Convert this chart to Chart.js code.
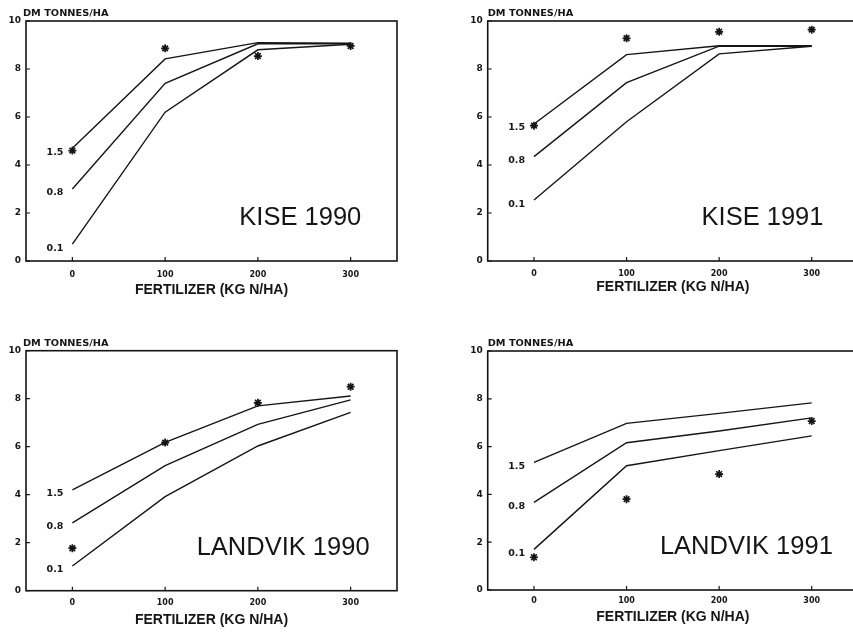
<!DOCTYPE html>
<html>
<head>
<meta charset="utf-8">
<script src="https://cdn.jsdelivr.net/npm/chart.js@4.4.1/dist/chart.umd.min.js"></script>
<style>
    body { margin: 0; background: #fff; width: 853px; height: 633px; overflow: hidden; position: relative; }
    canvas { position: absolute; }
</style>
</head>
<body>
<canvas id="c1" width="430" height="310" style="left:0;top:0"></canvas>
<canvas id="c2" width="440" height="310" style="left:430px;top:0"></canvas>
<canvas id="c3" width="430" height="313" style="left:0;top:320px"></canvas>
<canvas id="c4" width="440" height="313" style="left:430px;top:320px"></canvas>
<script>
const fertilizer = [0, 100, 200, 300];
const rateLabels = ["1.5", "0.8", "0.1"];
const panelNames = ["KISE 1990", "KISE 1991", "LANDVIK 1990", "LANDVIK 1991"];
const yTicks = [0, 2, 4, 6, 8, 10];

// simulated curves (one per rate) and observed values, DM tonnes/ha
const kise1990_15 = [4.7, 8.42, 9.1, 9.07];
const kise1990_08 = [3.0, 7.4, 9.05, 9.05];
const kise1990_01 = [0.7, 6.2, 8.8, 9.03];
const kise1990_obs = [4.6, 8.86, 8.54, 8.96];

const kise1991_15 = [5.71, 8.6, 8.97, 8.97];
const kise1991_08 = [4.35, 7.43, 8.95, 8.95];
const kise1991_01 = [2.54, 5.8, 8.63, 8.95];
const kise1991_obs = [5.64, 9.28, 9.55, 9.64];

const landvik1990_15 = [4.2, 6.18, 7.7, 8.11];
const landvik1990_08 = [2.83, 5.21, 6.93, 7.95];
const landvik1990_01 = [1.03, 3.92, 6.03, 7.43];
const landvik1990_obs = [1.77, 6.17, 7.83, 8.5];

const landvik1991_15 = [5.34, 6.97, 7.39, 7.83];
const landvik1991_08 = [3.67, 6.16, 6.65, 7.2];
const landvik1991_01 = [1.7, 5.2, 5.83, 6.45];
const landvik1991_obs = [1.37, 3.8, 4.85, 7.07];

const INK = "#151515";

const panels = [
    { id: "c1", name: panelNames[0], lines: [kise1990_15, kise1990_08, kise1990_01], obs: kise1990_obs,
      left: 26, top: 21, right: 33, xAxis: 49, tickPad: 8.7, titleGap: 29.5, unitDx: -3, nameAt: [180, 1.5] },
    { id: "c2", name: panelNames[1], lines: [kise1991_15, kise1991_08, kise1991_01], obs: kise1991_obs,
      left: 57.7, top: 21, right: 12, xAxis: 49, tickPad: 8.2, titleGap: 26.3, unitDx: 0, nameAt: [181, 1.5] },
    { id: "c3", name: panelNames[2], lines: [landvik1990_15, landvik1990_08, landvik1990_01], obs: landvik1990_obs,
      left: 26, top: 30.7, right: 33, xAxis: 42.3, tickPad: 7.7, titleGap: 29.3, unitDx: -3, nameAt: [134, 1.5] },
    { id: "c4", name: panelNames[3], lines: [landvik1991_15, landvik1991_08, landvik1991_01], obs: landvik1991_obs,
      left: 57.7, top: 31, right: 12, xAxis: 43, tickPad: 6.5, titleGap: 26.7, unitDx: 0, nameAt: [136, 1.5] },
];

function toPoints(values) {
    return fertilizer.map((x, i) => ({ x: x, y: values[i] }));
}

// frame with inward ticks, unit text, rate labels and site name
const annotate = {
    id: "annotate",
    afterDatasetsDraw(chart, args, opts) {
        const { ctx, chartArea: a, scales } = chart;
        ctx.save();
        ctx.strokeStyle = INK;
        ctx.lineWidth = 1.6;
        ctx.strokeRect(a.left, a.top, a.right - a.left, a.bottom - a.top);

        ctx.lineWidth = 1.2;
        ctx.beginPath();
        scales.x.ticks.forEach((t) => {
            const px = scales.x.getPixelForValue(t.value);
            ctx.moveTo(px, a.bottom);
            ctx.lineTo(px, a.bottom - 4);
        });
        scales.y.ticks.forEach((t) => {
            const py = scales.y.getPixelForValue(t.value);
            ctx.moveTo(a.left, py);
            ctx.lineTo(a.left + 4, py);
        });
        ctx.stroke();

        ctx.fillStyle = INK;
        ctx.textBaseline = "middle";
        ctx.textAlign = "right";
        ctx.font = "bold 9.5px 'DejaVu Sans'";
        rateLabels.forEach((label, i) => {
            const pt = chart.getDatasetMeta(i).data[0];
            ctx.fillText(label, pt.x - 9, pt.y + 4);
        });

        ctx.textAlign = "left";
        ctx.textBaseline = "alphabetic";
        ctx.font = "25.5px 'Liberation Sans', Arial, sans-serif";
        ctx.fillText(opts.name, scales.x.getPixelForValue(opts.nameAt[0]), scales.y.getPixelForValue(opts.nameAt[1]));

        ctx.translate(a.left + opts.unitDx, a.top - 5);
        ctx.scale(1.22, 1);
        ctx.font = "bold 8px 'DejaVu Sans'";
        ctx.fillText("DM TONNES/HA", 0, 0);
        ctx.restore();
    },
};

panels.forEach((p) => {
    const datasets = p.lines.map((vals, i) => ({
        type: "line",
        label: rateLabels[i],
        data: toPoints(vals),
        borderColor: INK,
        borderWidth: 1.4,
        pointRadius: 0,
        tension: 0,
        fill: false,
    }));
    datasets.push({
        type: "scatter",
        label: "observed",
        data: toPoints(p.obs),
        pointStyle: "star",
        pointRadius: 4,
        borderColor: INK,
        backgroundColor: INK,
        borderWidth: 1.7,
    });

    new Chart(document.getElementById(p.id), {
        data: { datasets },
        options: {
            responsive: false,
            animation: false,
            devicePixelRatio: 1,
            layout: { padding: { left: 0, top: p.top, right: p.right, bottom: 0 } },
            plugins: {
                legend: { display: false },
                tooltip: { enabled: false },
                annotate: { name: p.name, nameAt: p.nameAt, unitDx: p.unitDx },
            },
            scales: {
                x: {
                    type: "linear",
                    min: -50,
                    max: 350,
                    afterBuildTicks: (s) => { s.ticks = fertilizer.map((v) => ({ value: v })); },
                    afterFit: (s) => { s.height = p.xAxis; },
                    border: { display: false },
                    grid: { display: false, drawTicks: false },
                    ticks: {
                        padding: p.tickPad,
                        maxRotation: 0,
                        autoSkip: false,
                        color: INK,
                        font: { family: "DejaVu Sans", weight: "bold", size: 8 },
                    },
                    title: {
                        display: true,
                        text: "FERTILIZER (KG N/HA)",
                        color: INK,
                        font: { family: "Liberation Sans", weight: "bold", size: 14 },
                        padding: { top: 0, bottom: p.xAxis - p.titleGap - 8.4 },
                    },
                },
                y: {
                    min: 0,
                    max: 10,
                    afterBuildTicks: (s) => { s.ticks = yTicks.map((v) => ({ value: v })); },
                    afterFit: (s) => { s.width = p.left; },
                    border: { display: false },
                    grid: { display: false, drawTicks: false },
                    ticks: {
                        padding: 5,
                        color: INK,
                        font: { family: "DejaVu Sans", weight: "bold", size: 9 },
                    },
                },
            },
        },
        plugins: [annotate],
    });
});
</script>
</body>
</html>
